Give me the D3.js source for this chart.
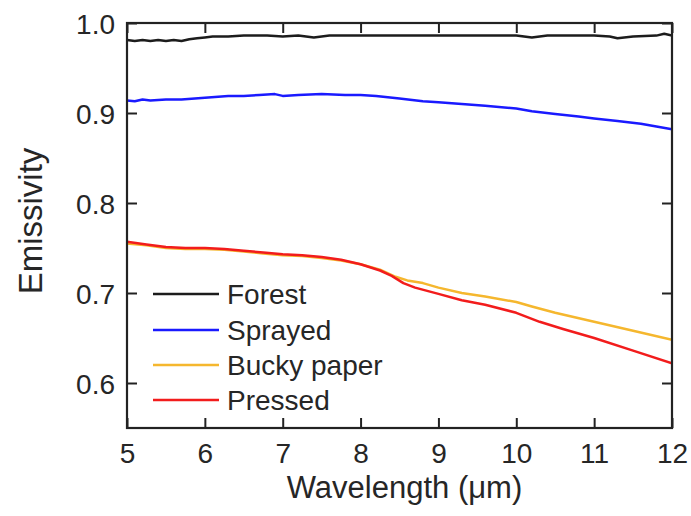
<!DOCTYPE html>
<html><head><meta charset="utf-8">
<script src="https://cdn.jsdelivr.net/npm/d3@7"></script>
<style>
html,body{margin:0;padding:0;background:#fff;}
text{font-family:"Liberation Sans",Arial,sans-serif;fill:#262626;}
</style></head>
<body><svg id="c" width="691" height="516"></svg>
<script>
const xTicks = [5,6,7,8,9,10,11,12];
const yTicks = [0.6,0.7,0.8,0.9,1.0];
const seriesNames = ["Forest","Sprayed","Bucky paper","Pressed"];
const seriesColors = ["#1c1c1c","#1a1aff","#f5b72e","#f21c1c"];

const forestX = [5.0,5.1,5.2,5.3,5.4,5.5,5.6,5.7,5.8,5.9,6.0,6.1,6.3,6.5,6.8,7.0,7.2,7.4,7.6,8.0,8.5,9.0,9.5,10.0,10.2,10.4,10.8,11.0,11.2,11.3,11.5,11.8,11.9,12.0];
const forestY = [0.981,0.980,0.981,0.980,0.981,0.980,0.981,0.980,0.982,0.983,0.984,0.985,0.985,0.986,0.986,0.985,0.986,0.984,0.986,0.986,0.986,0.986,0.986,0.986,0.984,0.986,0.986,0.986,0.985,0.983,0.985,0.986,0.988,0.986];

const sprayedX = [5.0,5.1,5.2,5.3,5.5,5.7,6.0,6.3,6.5,6.7,6.9,7.0,7.2,7.5,7.8,8.0,8.2,8.5,8.8,9.0,9.3,9.6,10.0,10.2,10.5,10.8,11.0,11.3,11.6,11.8,12.0];
const sprayedY = [0.914,0.913,0.915,0.914,0.915,0.915,0.917,0.919,0.919,0.920,0.921,0.919,0.920,0.921,0.920,0.920,0.919,0.916,0.913,0.912,0.910,0.908,0.905,0.902,0.899,0.896,0.894,0.891,0.888,0.885,0.882];

const buckyX = [5.0,5.25,5.5,5.75,6.0,6.25,6.5,6.75,7.0,7.25,7.5,7.75,8.0,8.25,8.45,8.6,8.8,9.0,9.3,9.6,10.0,10.2,10.5,11.0,11.5,12.0];
const buckyY = [0.755,0.753,0.750,0.749,0.749,0.748,0.746,0.744,0.742,0.741,0.739,0.736,0.732,0.726,0.718,0.714,0.711,0.706,0.700,0.696,0.690,0.685,0.678,0.668,0.658,0.648];

const pressedX = [5.0,5.25,5.5,5.75,6.0,6.25,6.5,6.75,7.0,7.25,7.5,7.75,8.0,8.25,8.4,8.55,8.7,9.0,9.3,9.6,10.0,10.3,10.6,11.0,11.5,12.0];
const pressedY = [0.757,0.754,0.751,0.750,0.750,0.749,0.747,0.745,0.743,0.742,0.740,0.737,0.732,0.725,0.719,0.711,0.706,0.699,0.692,0.687,0.678,0.668,0.660,0.650,0.636,0.622];

const seriesX = [forestX,sprayedX,buckyX,pressedX];
const seriesY = [forestY,sprayedY,buckyY,pressedY];

const L=127,R=672,T=23,B=428;
const svg=d3.select("#c");
const x=d3.scaleLinear().domain([5,12]).range([L,R]);
const y=d3.scaleLinear().domain([0.55,1.0]).range([B,T]);

svg.append("clipPath").attr("id","clip").append("rect").attr("x",L).attr("y",T).attr("width",R-L).attr("height",B-T);

const line=d3.line().x(d=>x(d[0])).y(d=>y(d[1]));
seriesNames.forEach((n,i)=>{
  const pts=seriesX[i].map((v,j)=>[v,seriesY[i][j]]);
  svg.append("path").datum(pts).attr("d",line).attr("fill","none")
    .attr("stroke",seriesColors[i]).attr("stroke-width",2.5).attr("clip-path","url(#clip)")
    .attr("stroke-linejoin","round");
});

const tickLen=10;
const gb=svg.append("g").attr("transform",`translate(0,${B})`)
  .call(d3.axisBottom(x).tickValues(xTicks).tickSize(-tickLen).tickPadding(15).tickFormat(d3.format("d")));
const gt=svg.append("g").attr("transform",`translate(0,${T})`)
  .call(d3.axisTop(x).tickValues(xTicks).tickSize(-tickLen).tickFormat(""));
const gl=svg.append("g").attr("transform",`translate(${L},0)`)
  .call(d3.axisLeft(y).tickValues(yTicks).tickSize(-tickLen).tickPadding(12).tickFormat(d3.format(".1f")));
const gr=svg.append("g").attr("transform",`translate(${R},0)`)
  .call(d3.axisRight(y).tickValues(yTicks).tickSize(-tickLen).tickFormat(""));
[gb,gt,gl,gr].forEach(g=>{
  g.select(".domain").remove();
  g.selectAll(".tick line").attr("stroke","#222").attr("stroke-width",2);
  g.selectAll(".tick text").attr("font-size",28).attr("fill","#262626")
    .style("font-family","'Liberation Sans',Arial,sans-serif");
});
gb.selectAll(".tick text").attr("dy","0.71em");
gl.selectAll(".tick text").attr("dy","0.36em");

svg.append("rect").attr("x",L).attr("y",T).attr("width",R-L).attr("height",B-T)
  .attr("fill","none").attr("stroke","#222").attr("stroke-width",2.2);

svg.append("text").attr("x",(L+R)/2+5).attr("y",498).attr("text-anchor","middle")
  .attr("font-size",31).text("Wavelength (μm)");
svg.append("text").attr("transform","translate(42,221) rotate(-90)").attr("text-anchor","middle")
  .attr("font-size",33).text("Emissivity");

const leg=svg.append("g");
const rowsY=[294,330,365,400];
seriesNames.forEach((n,i)=>{
  leg.append("line").attr("x1",153).attr("x2",219).attr("y1",rowsY[i]).attr("y2",rowsY[i])
    .attr("stroke",seriesColors[i]).attr("stroke-width",2.5);
  leg.append("text").attr("x",227).attr("y",rowsY[i]).attr("dy","0.35em")
    .attr("font-size",28).text(n);
});
</script></body></html>
